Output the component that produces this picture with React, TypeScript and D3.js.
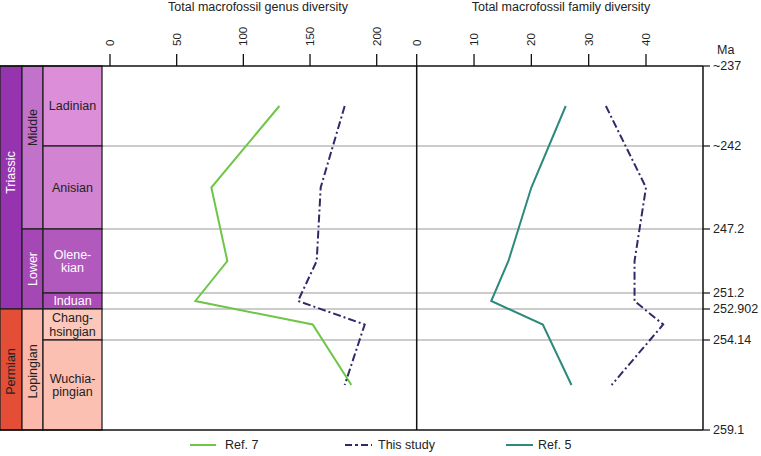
import React from "react";
import * as d3 from "d3";

const stages = ["Ladinian", "Anisian", "Olenekian", "Induan", "Changhsingian", "Wuchiapingian"];
const stageLabels = [["Ladinian"], ["Anisian"], ["Olene-", "kian"], ["Induan"], ["Chang-", "hsingian"], ["Wuchia-", "pingian"]];
const stageColors = ["#DC8FD8", "#D283D2", "#B259BE", "#AB4BB8", "#FCC8BC", "#FCC0B3"];
const stageTextColors = ["#222", "#222", "#fff", "#fff", "#222", "#222"];
const boundaries = [237, 242, 247.2, 251.2, 252.902, 254.14, 259.1];
const boundaryLabels = ["~237", "~242", "247.2", "251.2", "252.902", "254.14", "259.1"];

const seriesNames = ["Middle", "Lower", "Lopingian"];
const seriesSpans = [[237, 247.2], [247.2, 252.902], [252.902, 259.1]];
const seriesColors = ["#C272CA", "#A548B6", "#FCB8AA"];
const seriesTextColors = ["#222", "#fff", "#222"];

const systemNames = ["Triassic", "Permian"];
const systemSpans = [[237, 252.902], [252.902, 259.1]];
const systemColors = ["#9634B0", "#E44E36"];
const systemTextColors = ["#fff", "#222"];

const genusTicks = [0, 50, 100, 150, 200];
const familyTicks = [0, 10, 20, 30, 40];

const genusRef7 = [127, 76, 88, 64, 152, 181];
const genusThisStudy = [176, 158, 155, 141, 191, 176];
const familyRef5 = [26, 20, 16, 13, 22, 27];
const familyThisStudy = [33, 40, 38, 38, 43, 34];

const W = 761, H = 456;
const top = 66, bottom = 430;
const x0 = 102, xMid = 416.7, xRight = 703;

export default function App() {
  const y = d3.scaleLinear().domain(boundaries).range([66, 146, 229, 293, 309, 340, 430]);
  const xG = d3.scaleLinear().domain([0, 200]).range([110, 376.7]);
  const xF = d3.scaleLinear().domain([0, 40]).range([xMid, 646]);
  const midY = stages.map((_, i) => (y(boundaries[i]) + y(boundaries[i + 1])) / 2);

  const lineG = d3.line<number>().x((d) => xG(d)).y((_, i) => midY[i]);
  const lineF = d3.line<number>().x((d) => xF(d)).y((_, i) => midY[i]);

  const font = "Liberation Sans, Arial, Helvetica, sans-serif";
  const green = "#6DC646";
  const navy = "#2F2A6A";
  const teal = "#2B8A7B";
  const dash = "8,3,2,3";

  const colX = [0, 22, 43, x0];
  // vertical nudges of rotated unit labels (layout only)
  const systemShift = [-15, 2];
  const seriesShift = [-20, 0, 2];

  return (
    <svg width={W} height={H} style={{ position: "absolute", left: 0, top: 0, fontFamily: font }}>
      <rect width={W} height={H} fill="#fff" />
      <text x={258} y={11} fontSize={12.5} textAnchor="middle" fill="#222">Total macrofossil genus diversity</text>
      <text x={561} y={11} fontSize={12.5} textAnchor="middle" fill="#222">Total macrofossil family diversity</text>

      {boundaries.slice(1, -1).map((b, i) => (
        <line key={"g" + i} x1={x0} x2={xRight} y1={y(b)} y2={y(b)} stroke="#9a9a9a" strokeWidth={1.2} />
      ))}

      {systemNames.map((n, i) => {
        const y1 = y(systemSpans[i][0]), y2 = y(systemSpans[i][1]);
        const cx = (colX[0] + colX[1]) / 2, cy = (y1 + y2) / 2 + systemShift[i];
        return (
          <g key={n}>
            <rect x={colX[0]} y={y1} width={colX[1] - colX[0]} height={y2 - y1} fill={systemColors[i]} stroke="#222" strokeWidth={1.3} />
            <text transform={`translate(${cx},${cy}) rotate(-90)`} textAnchor="middle" dy="0.35em" fontSize={12.5} fill={systemTextColors[i]}>{n}</text>
          </g>
        );
      })}
      {seriesNames.map((n, i) => {
        const y1 = y(seriesSpans[i][0]), y2 = y(seriesSpans[i][1]);
        const cx = (colX[1] + colX[2]) / 2, cy = (y1 + y2) / 2 + seriesShift[i];
        return (
          <g key={n}>
            <rect x={colX[1]} y={y1} width={colX[2] - colX[1]} height={y2 - y1} fill={seriesColors[i]} stroke="#222" strokeWidth={1.3} />
            <text transform={`translate(${cx},${cy}) rotate(-90)`} textAnchor="middle" dy="0.35em" fontSize={12.5} fill={seriesTextColors[i]}>{n}</text>
          </g>
        );
      })}
      {stages.map((n, i) => {
        const y1 = y(boundaries[i]), y2 = y(boundaries[i + 1]);
        const cx = (colX[2] + colX[3]) / 2, cy = (y1 + y2) / 2;
        const lines = stageLabels[i];
        return (
          <g key={n}>
            <rect x={colX[2]} y={y1} width={colX[3] - colX[2]} height={y2 - y1} fill={stageColors[i]} stroke="#222" strokeWidth={1.3} />
            <text x={cx} y={cy} textAnchor="middle" fontSize={12.5} fill={stageTextColors[i]}>
              {lines.map((l, j) => (
                <tspan key={j} x={cx} dy={j === 0 ? `${0.35 - (lines.length - 1) * 0.55}em` : "1.1em"}>{l}</tspan>
              ))}
            </text>
          </g>
        );
      })}

      <line x1={0} x2={xRight} y1={top} y2={top} stroke="#111" strokeWidth={1.5} />
      <line x1={0} x2={xRight} y1={bottom} y2={bottom} stroke="#111" strokeWidth={1.5} />
      <line x1={xMid} x2={xMid} y1={top} y2={bottom} stroke="#111" strokeWidth={1.5} />
      <line x1={xRight} x2={xRight} y1={top} y2={bottom} stroke="#111" strokeWidth={1.5} />

      {genusTicks.map((t) => (
        <g key={"gt" + t} transform={`translate(${xG(t)},0)`}>
          <line y1={54} y2={top} stroke="#111" strokeWidth={1.3} />
          <text transform="translate(0,46) rotate(-90)" textAnchor="start" dy="0.35em" fontSize={11.5} fill="#222">{t}</text>
        </g>
      ))}
      {familyTicks.map((t) => (
        <g key={"ft" + t} transform={`translate(${xF(t)},0)`}>
          <line y1={54} y2={top} stroke="#111" strokeWidth={1.3} />
          <text transform="translate(0,46) rotate(-90)" textAnchor="start" dy="0.35em" fontSize={11.5} fill="#222">{t}</text>
        </g>
      ))}

      <text x={717} y={54} fontSize={12.5} fill="#222">Ma</text>
      {boundaries.map((b, i) => (
        <g key={"r" + i} transform={`translate(${xRight},${y(b)})`}>
          <line x1={0} x2={7} stroke="#111" strokeWidth={1.2} />
          <text x={10} dy="0.35em" fontSize={12.5} fill="#222">{boundaryLabels[i]}</text>
        </g>
      ))}

      <path d={lineG(genusRef7) || ""} fill="none" stroke={green} strokeWidth={2} />
      <path d={lineG(genusThisStudy) || ""} fill="none" stroke={navy} strokeWidth={2} strokeDasharray={dash} />
      <path d={lineF(familyRef5) || ""} fill="none" stroke={teal} strokeWidth={2} />
      <path d={lineF(familyThisStudy) || ""} fill="none" stroke={navy} strokeWidth={2} strokeDasharray={dash} />

      <line x1={190} x2={216} y1={445} y2={445} stroke={green} strokeWidth={2} />
      <text x={225} y={445} dy="0.35em" fontSize={12.5} fill="#222">Ref. 7</text>
      <line x1={345} x2={372} y1={445} y2={445} stroke={navy} strokeWidth={2} strokeDasharray="7,3,3,3" />
      <text x={378} y={445} dy="0.35em" fontSize={12.5} fill="#222">This study</text>
      <line x1={506} x2={533} y1={445} y2={445} stroke={teal} strokeWidth={2} />
      <text x={538} y={445} dy="0.35em" fontSize={12.5} fill="#222">Ref. 5</text>
    </svg>
  );
}
